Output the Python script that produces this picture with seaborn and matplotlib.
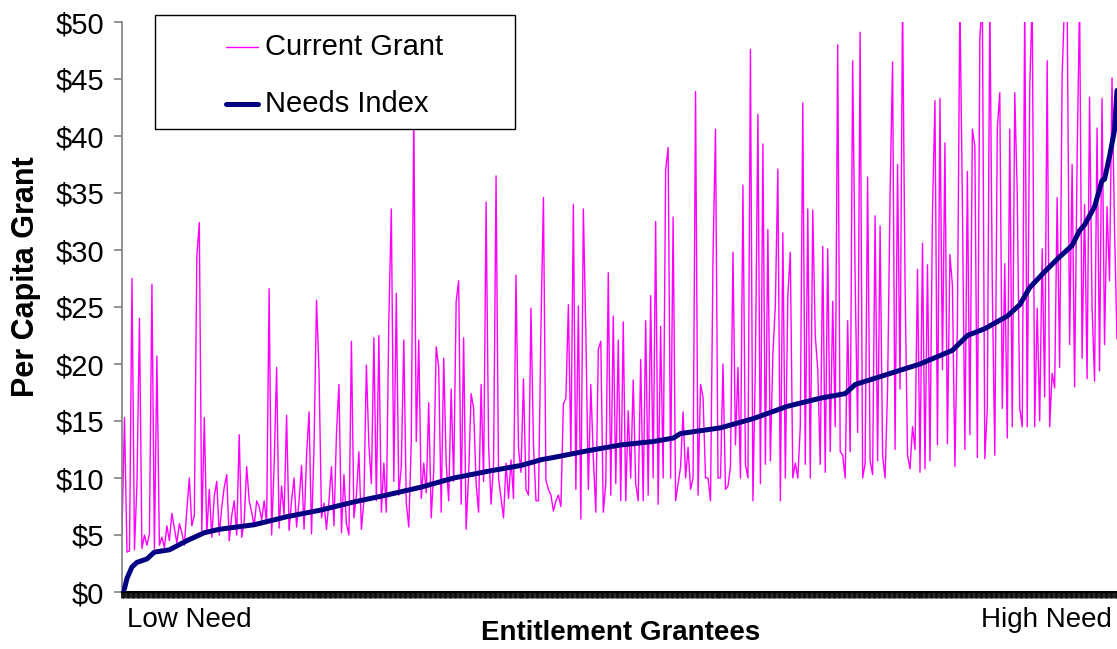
import numpy as np
import matplotlib
matplotlib.use("Agg")
import matplotlib.pyplot as plt
import seaborn as sns
from matplotlib.lines import Line2D
from matplotlib.patches import Rectangle

# Current grant per capita for each grantee, ordered from low to high need
current_grant = [
    # low need block
    5.1, 15.3, 3.5, 3.6, 27.5, 3.7, 9.5, 24.0, 3.8, 5.0,
    4.1, 5.1, 27.0, 3.8, 20.7, 4.1, 4.8, 3.9, 5.8, 4.5,
    6.9, 5.6, 4.3, 6.0, 5.2, 4.1, 7.2, 10.0, 5.8, 6.7,
    29.4, 32.4, 5.4, 15.3, 5.1, 9.0, 4.8, 8.4, 9.7, 5.0,
    7.4, 9.2, 10.3, 4.5, 6.7, 8.0, 5.0, 13.8, 4.8, 6.2,
    11.0, 8.0, 7.0, 5.8, 8.0, 7.5, 6.3, 8.0, 6.0, 26.6,
    5.0, 11.1, 19.7, 5.6, 9.3, 6.7, 15.5, 5.4, 8.0, 10.0,
    5.7, 8.0, 11.1, 5.5, 11.9, 15.8, 5.1, 12.7, 25.6, 19.4,
    # second block
    6.5, 7.8, 5.5, 8.0, 11.0, 5.8, 13.9, 18.2, 5.2, 10.3,
    6.0, 5.0, 22.0, 6.5, 8.5, 12.3, 5.5, 8.0, 19.9, 12.9,
    9.5, 22.3, 8.0, 22.5, 7.0, 11.3, 7.0, 23.9, 33.6, 9.7,
    26.2, 8.5, 11.0, 22.1, 7.8, 5.7, 13.2, 42.0, 13.2, 22.1,
    8.2, 11.3, 8.7, 16.6, 6.5, 10.6, 21.5, 19.7, 7.0, 20.5,
    11.3, 8.0, 17.8, 9.7, 25.5, 27.3, 7.7, 22.3, 5.5, 10.3,
    17.4, 16.1, 9.5, 7.0, 18.2, 9.7, 34.2, 12.9, 7.7, 11.3,
    36.5, 10.0, 8.2, 6.5, 11.3, 8.2, 11.6, 8.2, 27.8, 12.6,
    # middle block
    10.5, 18.7, 9.0, 8.5, 24.9, 12.9, 8.0, 8.0, 23.3, 34.6,
    9.8, 9.0, 8.5, 7.1, 8.0, 8.5, 7.5, 16.5, 17.0, 25.2,
    12.0, 34.0, 9.0, 25.1, 6.4, 33.6, 22.8, 9.0, 18.2, 11.8,
    7.0, 21.3, 22.0, 7.0, 9.5, 28.0, 8.5, 24.2, 9.5, 22.1,
    8.0, 23.7, 8.0, 15.9, 10.0, 18.6, 9.5, 8.0, 20.4, 8.0,
    23.8, 8.5, 26.0, 10.0, 32.5, 7.7, 23.3, 10.0, 37.0, 39.0,
    10.0, 32.9, 8.0, 9.5, 11.0, 15.8, 10.0, 12.7, 9.0, 10.0,
    43.9, 8.5, 18.2, 17.1, 10.0, 10.0, 8.0, 29.4, 40.6, 10.0,
    # fourth block
    10.0, 20.0, 9.0, 9.3, 11.0, 29.8, 12.9, 19.7, 10.0, 35.7,
    11.2, 10.0, 47.6, 8.0, 20.0, 41.9, 9.5, 39.3, 11.2, 31.8,
    11.5, 20.8, 25.2, 37.1, 8.0, 31.5, 10.0, 26.0, 29.8, 10.0,
    11.3, 10.0, 14.5, 42.9, 11.2, 33.6, 10.0, 33.5, 22.5, 19.5,
    11.2, 30.3, 10.5, 30.1, 12.3, 25.5, 14.5, 48.0, 12.3, 12.0,
    10.0, 23.8, 12.3, 46.6, 27.3, 14.0, 49.1, 10.0, 11.3, 36.4,
    11.5, 10.3, 33.0, 11.5, 32.1, 12.0, 10.0, 17.8, 34.8, 46.5,
    12.5, 37.5, 17.8, 52.0, 27.2, 12.0, 10.8, 14.5, 12.5, 28.3,
    # high need block
    10.5, 30.6, 10.8, 28.7, 11.5, 33.3, 43.1, 12.9, 43.3, 19.5,
    39.4, 13.0, 29.6, 26.9, 11.0, 23.5, 52.0, 34.2, 12.5, 36.9,
    13.8, 40.6, 39.1, 11.8, 48.6, 52.0, 11.7, 16.1, 52.0, 26.7,
    12.0, 40.7, 43.8, 16.1, 28.8, 13.5, 40.6, 14.5, 43.8, 34.9,
    16.1, 14.5, 52.0, 14.5, 44.2, 52.0, 14.5, 24.9, 15.0, 30.1,
    17.1, 46.6, 14.5, 19.2, 17.9, 34.6, 19.7, 45.3, 52.0, 52.0,
    21.7, 37.5, 18.0, 38.0, 52.0, 20.5, 34.0, 18.7, 43.4, 25.0,
    18.5, 40.7, 19.4, 43.3, 21.7, 33.8, 27.3, 45.1, 31.9, 22.2,
]

# Needs index read at grantee ranks
needs_rank = [
    1, 2, 3, 5, 7, 11, 14, 20, 27, 34,
    40, 54, 67, 81, 94, 107, 121, 134, 148, 161,
    169, 174, 188, 201, 214, 222, 225, 241, 254, 268,
    281, 291, 295, 308, 321, 334, 340, 347, 356, 361,
    365, 371, 377, 382, 385, 387, 391, 394, 395, 397,
    399, 400,
]
needs_index = [
    0.0, 0.3, 1.2, 2.2, 2.6, 2.9, 3.5, 3.7, 4.5, 5.2,
    5.5, 5.9, 6.6, 7.2, 7.9, 8.5, 9.2, 10.0, 10.6, 11.1,
    11.6, 11.8, 12.4, 12.9, 13.2, 13.5, 13.9, 14.4, 15.2, 16.3,
    17.0, 17.4, 18.2, 19.1, 20.0, 21.2, 22.5, 23.1, 24.2, 25.2,
    26.7, 28.1, 29.4, 30.4, 31.7, 32.2, 33.8, 36.1, 36.2, 38.2,
    40.5, 44.0,
]

y_ticks = [0, 5, 10, 15, 20, 25, 30, 35, 40, 45, 50]
y_tick_labels = ["$0", "$5", "$10", "$15", "$20", "$25", "$30", "$35", "$40", "$45", "$50"]

sns.set_theme(style="white")
plt.rcParams['font.family'] = ['Liberation Sans', 'DejaVu Sans']
plt.rcParams['text.color'] = 'black'

W, H = 1117, 649
fig = plt.figure(figsize=(W / 100, H / 100), dpi=100)
ax = fig.add_axes([122 / W, 1 - 592 / H, 995 / W, 570 / H])

grantee = np.arange(1, len(current_grant) + 1)
sns.lineplot(x=grantee, y=current_grant, color='#FF00FF', linewidth=1.0, ax=ax, zorder=2)
sns.lineplot(x=needs_rank, y=needs_index, color='#000080', linewidth=3.6, ax=ax, zorder=3)

ax.set_xlim(1, len(current_grant))
ax.set_ylim(0, 50)
ax.set_yticks(y_ticks)
ax.set_yticklabels(y_tick_labels)
ax.set_xticks(grantee)
ax.set_xlabel('')
ax.set_ylabel('')

# dense tick marks along the bottom, one per grantee
ax.tick_params(axis='x', bottom=True, length=4, width=2.0, color='#111111',
               direction='out', labelbottom=False)
ax.tick_params(axis='y', left=True, length=6, width=1.2, color='#808080',
               direction='out', labelsize=21, pad=7, labelcolor='black')
sns.despine(ax=ax)
ax.spines['left'].set_color('#808080')
ax.spines['left'].set_linewidth(1.2)
ax.spines['bottom'].set_color('black')
ax.spines['bottom'].set_linewidth(1.5)

# axis texts
fig.text(26 / W, 1 - 277 / H, "Per Capita Grant", rotation=90, fontsize=22,
         fontweight='bold', ha='center', va='center', color='black')
fig.text(621 / W, 1 - 633 / H, "Entitlement Grantees", fontsize=20,
         fontweight='bold', ha='center', va='center', color='black')
fig.text(127 / W, 1 - 620 / H, "Low Need", fontsize=20, ha='left', va='center', color='black')
fig.text(1112 / W, 1 - 620 / H, "High Need", fontsize=20, ha='right', va='center', color='black')

# legend box, drawn over the plot
fig.add_artist(Rectangle((155 / W, 1 - 129 / H), 360 / W, 114 / H,
                         transform=fig.transFigure, facecolor='white',
                         edgecolor='black', linewidth=1.0, zorder=5))
fig.add_artist(Line2D([226 / W, 258 / W], [1 - 47 / H, 1 - 47 / H],
                      transform=fig.transFigure, color='#FF00FF', linewidth=1.0, zorder=6))
fig.add_artist(Line2D([226 / W, 258 / W], [1 - 104 / H, 1 - 104 / H],
                      transform=fig.transFigure, color='#000080', linewidth=3.6, zorder=6))
fig.text(265 / W, 1 - 47 / H, "Current Grant", fontsize=21, ha='left', va='center',
         color='black', zorder=7)
fig.text(265 / W, 1 - 104 / H, "Needs Index", fontsize=21, ha='left', va='center',
         color='black', zorder=7)

fig.savefig("out.png", dpi=100)
